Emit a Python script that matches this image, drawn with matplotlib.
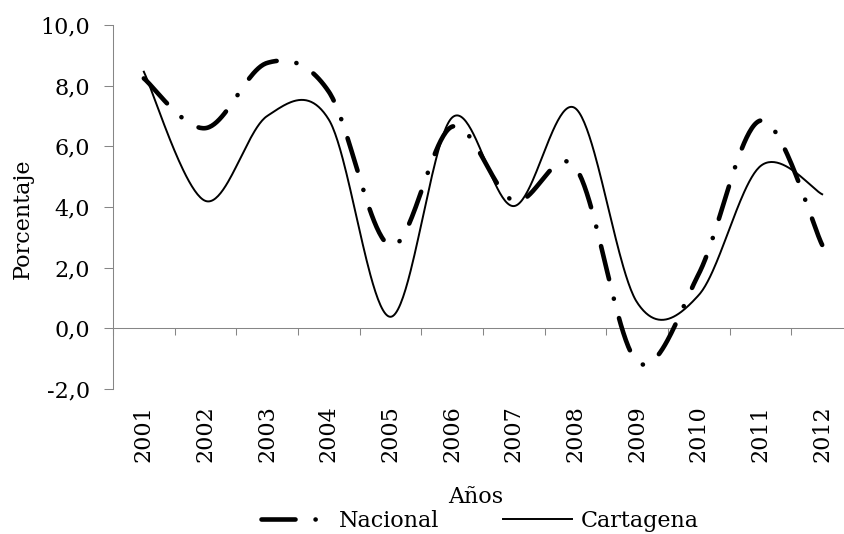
import numpy as np
import matplotlib
matplotlib.use('Agg')
import matplotlib.pyplot as plt

plt.rcParams['font.family'] = ['DejaVu Serif']
plt.rcParams['lines.scale_dashes'] = False

years = ['2001', '2002', '2003', '2004', '2005', '2006',
         '2007', '2008', '2009', '2010', '2011', '2012']
nacional = [8.24, 6.6, 8.75, 7.8, 2.72, 6.65, 4.2, 5.3, -1.1, 1.8, 6.85, 2.75]
cartagena = [8.46, 4.2, 7.0, 6.88, 0.38, 6.95, 4.03, 7.25, 0.85, 1.1, 5.35, 4.42]
yticks = [-2, 0, 2, 4, 6, 8, 10]


def excel_smooth(xv, yv, n=50):
    P = np.column_stack([xv, yv]).astype(float)
    Pext = np.vstack([P[0], P, P[-1]])
    out = []
    t = np.linspace(0, 1, n)[:, None]
    for i in range(len(P) - 1):
        p0, p1, p2, p3 = Pext[i], Pext[i + 1], Pext[i + 2], Pext[i + 3]
        c1 = p1 + (p2 - p0) / 6
        c2 = p2 - (p3 - p1) / 6
        seg = (1 - t) ** 3 * p1 + 3 * (1 - t) ** 2 * t * c1 + 3 * (1 - t) * t ** 2 * c2 + t ** 3 * p2
        if i > 0:
            seg = seg[1:]
        out.append(seg)
    c = np.vstack(out)
    return c[:, 0], c[:, 1]


W, H = 845, 534
fig = plt.figure(figsize=(W / 100, H / 100), dpi=100)
ax = fig.add_axes([113 / W, 1 - 389 / H, 740 / W, 364 / H])

x = np.arange(len(years))
xn, yn = excel_smooth(x, nacional)
xc, yc = excel_smooth(x, cartagena)
l1, = ax.plot(xn, yn, color='black', lw=3.3, dashes=[24.5, 14.4, 0.1, 14.4],
              dash_capstyle='round', solid_capstyle='round', label='Nacional')
l2, = ax.plot(xc, yc, color='black', lw=1.4, label='Cartagena')

ax.set_xlim(-0.5, len(years) - 0.5)
ax.set_ylim(yticks[0], yticks[-1])

gray = '#868686'
ax.set_yticks(yticks)
ax.set_yticklabels([f"{v:.1f}".replace('.', ',') for v in yticks], fontsize=16)
ax.tick_params(axis='y', direction='out', length=6.5, width=0.75, color=gray, pad=10)
ax.spines['left'].set_color(gray)
ax.spines['left'].set_linewidth(0.75)
for s in ['top', 'right', 'bottom']:
    ax.spines[s].set_visible(False)

ax.set_xticks(x)
ax.set_xticklabels(years, rotation=90, fontsize=16, va='top', ha='center')
ax.tick_params(axis='x', length=0, pad=11.5)

# category axis crossing at y = 0
pos0 = (0 - yticks[0]) / (yticks[-1] - yticks[0])
sec = ax.secondary_xaxis(pos0)
sec.set_xticks(np.arange(len(years) + 1) - 0.5)
sec.tick_params(axis='x', direction='out', length=5, width=0.75, color=gray, labelbottom=False)
sec.spines['bottom'].set_color(gray)
sec.spines['bottom'].set_linewidth(0.75)

fig.text(23 / W, 1 - 219 / H, 'Porcentaje', rotation=90, ha='center', va='center', fontsize=16)
fig.text(476 / W, 1 - 497 / H, 'Años', ha='center', va='center', fontsize=16)

fig.legend([l1, l2], ['Nacional', 'Cartagena'], loc='center',
           bbox_to_anchor=(480 / W, 1 - 521 / H), ncol=2, frameon=False,
           handlelength=3.1, handletextpad=0.4, columnspacing=2.9, fontsize=16,
           borderpad=0, borderaxespad=0)

fig.savefig('out.png', dpi=100)
